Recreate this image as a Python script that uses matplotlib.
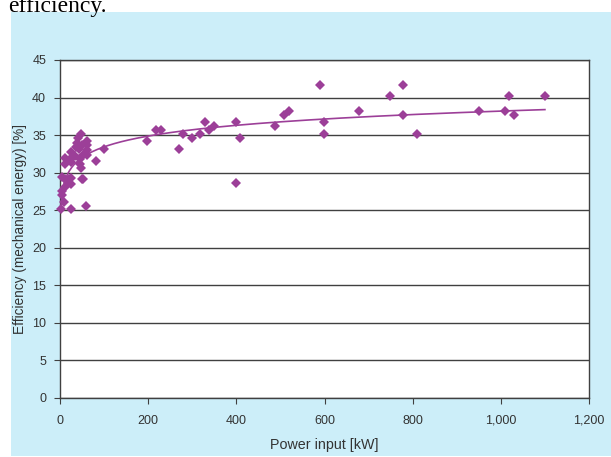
import matplotlib.pyplot as plt
import numpy as np
from matplotlib.patches import Rectangle

# power input [kW] and efficiency [%]
power = [2, 4, 5, 5, 9, 11, 11, 11, 11, 18, 20, 23, 25, 25, 25, 25, 25,
         34, 36, 38, 41, 44, 45, 45, 47, 48, 50, 50, 53, 53, 59, 61, 61,
         61, 61, 82, 100,
         197, 218, 229, 270, 279, 299, 318, 328, 338, 349, 399, 399, 408,
         488, 508, 519, 590, 599, 599, 678, 749, 778, 778, 810, 950, 1009,
         1019, 1030, 1100]
efficiency = [25.1, 27.0, 27.6, 29.4, 26.1, 28.1, 29.1, 31.2, 31.9, 28.6,
              29.1, 31.8, 25.1, 28.5, 29.3, 31.4, 32.7,
              32.2, 33.4, 34.0, 34.6, 33.2, 31.8, 31.1, 30.6, 35.1, 33.7,
              29.1, 29.1, 32.4, 25.6, 34.2, 33.7, 33.0, 32.3, 31.5, 33.1,
              34.2, 35.7, 35.7, 33.2, 35.1, 34.6, 35.1, 36.7, 35.7, 36.2,
              36.7, 28.6, 34.6, 36.2, 37.7, 38.2, 41.7, 36.7, 35.1, 38.2,
              40.2, 41.7, 37.7, 35.1, 38.2, 38.2, 40.2, 37.7, 40.2]

x_ticks = [0, 200, 400, 600, 800, 1000, 1200]
x_labels = ["0", "200", "400", "600", "800", "1,000", "1,200"]
y_ticks = [0, 5, 10, 15, 20, 25, 30, 35, 40, 45]

purple = "#9c3f98"
grey = "#404040"

plt.rcParams['font.family'] = ['Liberation Sans', 'DejaVu Sans']

fig = plt.figure(figsize=(6.11, 4.57), dpi=100)
fig.patch.set_facecolor("white")
# light blue panel behind the chart
fig.patches.append(Rectangle((11 / 611, 1 / 457), 600 / 611, 444 / 457,
                             transform=fig.transFigure, facecolor="#cceef9",
                             edgecolor="none", zorder=-5))
fig.text(8 / 611, 1.0 + 4 / 457, "efficiency.", family="Liberation Serif",
         fontsize=17, ha="left", va="top", color="black")

ax = fig.add_axes([60 / 611, 1 - 398 / 457, 529 / 611, 338 / 457])
ax.set_zorder(1)
ax.set_facecolor("white")

# logarithmic trend line fitted to the points
a, b = np.polyfit(np.log(power), efficiency, 1)
xs = np.linspace(min(power), max(power), 400)
ax.plot(xs, a * np.log(xs) + b, color=purple, lw=1.2, zorder=3)

ax.plot(power, efficiency, linestyle="none", marker="D", markersize=5,
        color=purple, markeredgewidth=0, zorder=4, clip_on=False)

ax.set_xlim(0, 1200)
ax.set_ylim(0, 45)
ax.set_xticks(x_ticks)
ax.set_xticklabels(x_labels)
ax.set_yticks(y_ticks)
ax.yaxis.grid(True, color=grey, lw=1)
ax.set_axisbelow(True)
for s in ax.spines.values():
    s.set_color(grey)
    s.set_linewidth(1)
ax.tick_params(axis="both", direction="out", length=4, color=grey,
               labelsize=9, labelcolor="#333333", pad=6)
ax.tick_params(axis="x", pad=8)

ax.set_xlabel("Power input [kW]", fontsize=10.3, color="#333333", labelpad=8)
ax.set_ylabel("Efficiency (mechanical energy) [%]", fontsize=9.8,
              color="#333333", labelpad=4)

fig.savefig("out.png", dpi=100, facecolor="white")
